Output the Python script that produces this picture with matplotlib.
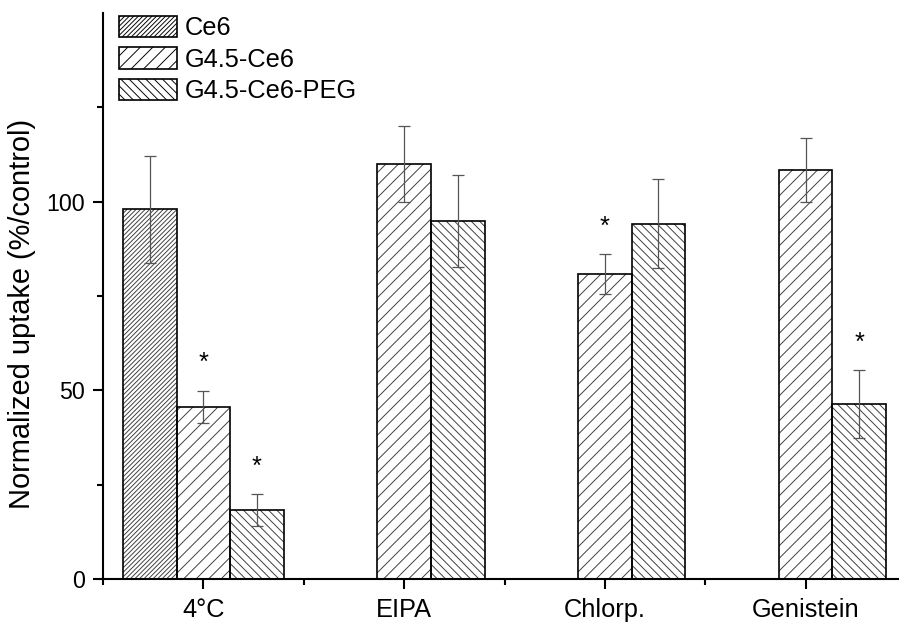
import matplotlib
matplotlib.use('Agg')
import matplotlib.pyplot as plt
import numpy as np
from matplotlib.patches import Patch

plt.rcParams['font.family'] = ['Liberation Sans', 'DejaVu Sans']
plt.rcParams['hatch.linewidth'] = 0.45

# ---- data ----
categories = ['4°C', 'EIPA', 'Chlorp.', 'Genistein']
series = ['Ce6', 'G4.5-Ce6', 'G4.5-Ce6-PEG']
ce6 = [98.0, np.nan, np.nan, np.nan]
ce6_err = [14.2, np.nan, np.nan, np.nan]
g45 = [45.6, 110.0, 80.7, 108.4]
g45_err = [4.2, 10.0, 5.3, 8.6]
peg = [18.2, 94.8, 94.2, 46.4]
peg_err = [4.2, 12.2, 11.8, 8.9]
sig_ce6 = [False, False, False, False]
sig_g45 = [True, False, True, False]
sig_peg = [True, False, False, True]
y_ticks = [0, 50, 100]

hatches = ['/' * 11, '/' * 4, '\\' * 6]
HATCH_COLOR = '#3c3c3c'

DPI = 150
W, H = 899, 625
fig = plt.figure(figsize=(W / DPI, H / DPI), dpi=DPI)
ax = fig.add_axes([103 / W, (H - 579) / H, 803 / W, 566 / H])

x = np.arange(1, len(categories) + 1)
bw = 0.267
FS = 12.2

all_vals = [ce6, g45, peg]
all_errs = [ce6_err, g45_err, peg_err]
all_sig = [sig_ce6, sig_g45, sig_peg]
for k, (vals, errs, sig, hatch) in enumerate(zip(all_vals, all_errs, all_sig, hatches)):
    vals = np.array(vals, dtype=float)
    errs = np.array(errs, dtype=float)
    m = ~np.isnan(vals)
    xs = x[m] + (k - 1) * bw
    # hatch layer (grey hatch lines)
    ax.bar(xs, vals[m], width=bw, facecolor='white', edgecolor=HATCH_COLOR,
           hatch=hatch, linewidth=0, zorder=2)
    # black outline
    ax.bar(xs, vals[m], width=bw, fill=False, edgecolor='black',
           linewidth=0.8, zorder=2.5)
    ax.errorbar(xs, vals[m], yerr=errs[m], fmt='none', ecolor='#555555',
                elinewidth=0.6, capsize=2.7, capthick=0.6, zorder=3)
    for xi, v, e, s in zip(xs, vals[m], errs[m], np.array(sig)[m]):
        if s:
            ax.text(xi, v + e + 5.5, '*', ha='center', va='baseline',
                    fontsize=FS, color='black')

ax.set_xlim(0.5, 4.5)
ax.set_ylim(0, 150)
ax.set_xticks(x)
ax.set_xticklabels(categories, fontsize=FS)
ax.set_xticks(np.arange(0.5, 4.51, 1.0), minor=True)
ax.set_yticks(y_ticks)
ax.set_yticklabels([str(t) for t in y_ticks], fontsize=11.2)
ax.set_yticks([25, 75, 125], minor=True)
for s in ['top', 'right']:
    ax.spines[s].set_visible(False)
for s in ['left', 'bottom']:
    ax.spines[s].set_linewidth(1.0)
ax.tick_params(axis='both', which='major', length=5, width=1.0, direction='out')
ax.tick_params(axis='both', which='minor', length=3, width=1.0, direction='out')
ax.tick_params(axis='y', which='major', pad=3.8)
ax.tick_params(axis='x', which='major', pad=4)

fig.text(22 / W, 1 - 314 / H, 'Normalized uptake (%/control)', rotation=90,
         ha='center', va='center', fontsize=13.9)


def legend_handle(h):
    return Patch(facecolor='white', edgecolor='black', hatch=h, linewidth=0.8)


handles = [legend_handle(h) for h in hatches]
leg = ax.legend(handles, series, loc='upper left', bbox_to_anchor=(119 / W, 1 - 16 / H),
                bbox_transform=fig.transFigure, frameon=False, fontsize=FS,
                borderpad=0, borderaxespad=0, handlelength=2.3, handleheight=0.9,
                handletextpad=0.28, labelspacing=0.28)

fig.savefig('out.png', dpi=DPI)
